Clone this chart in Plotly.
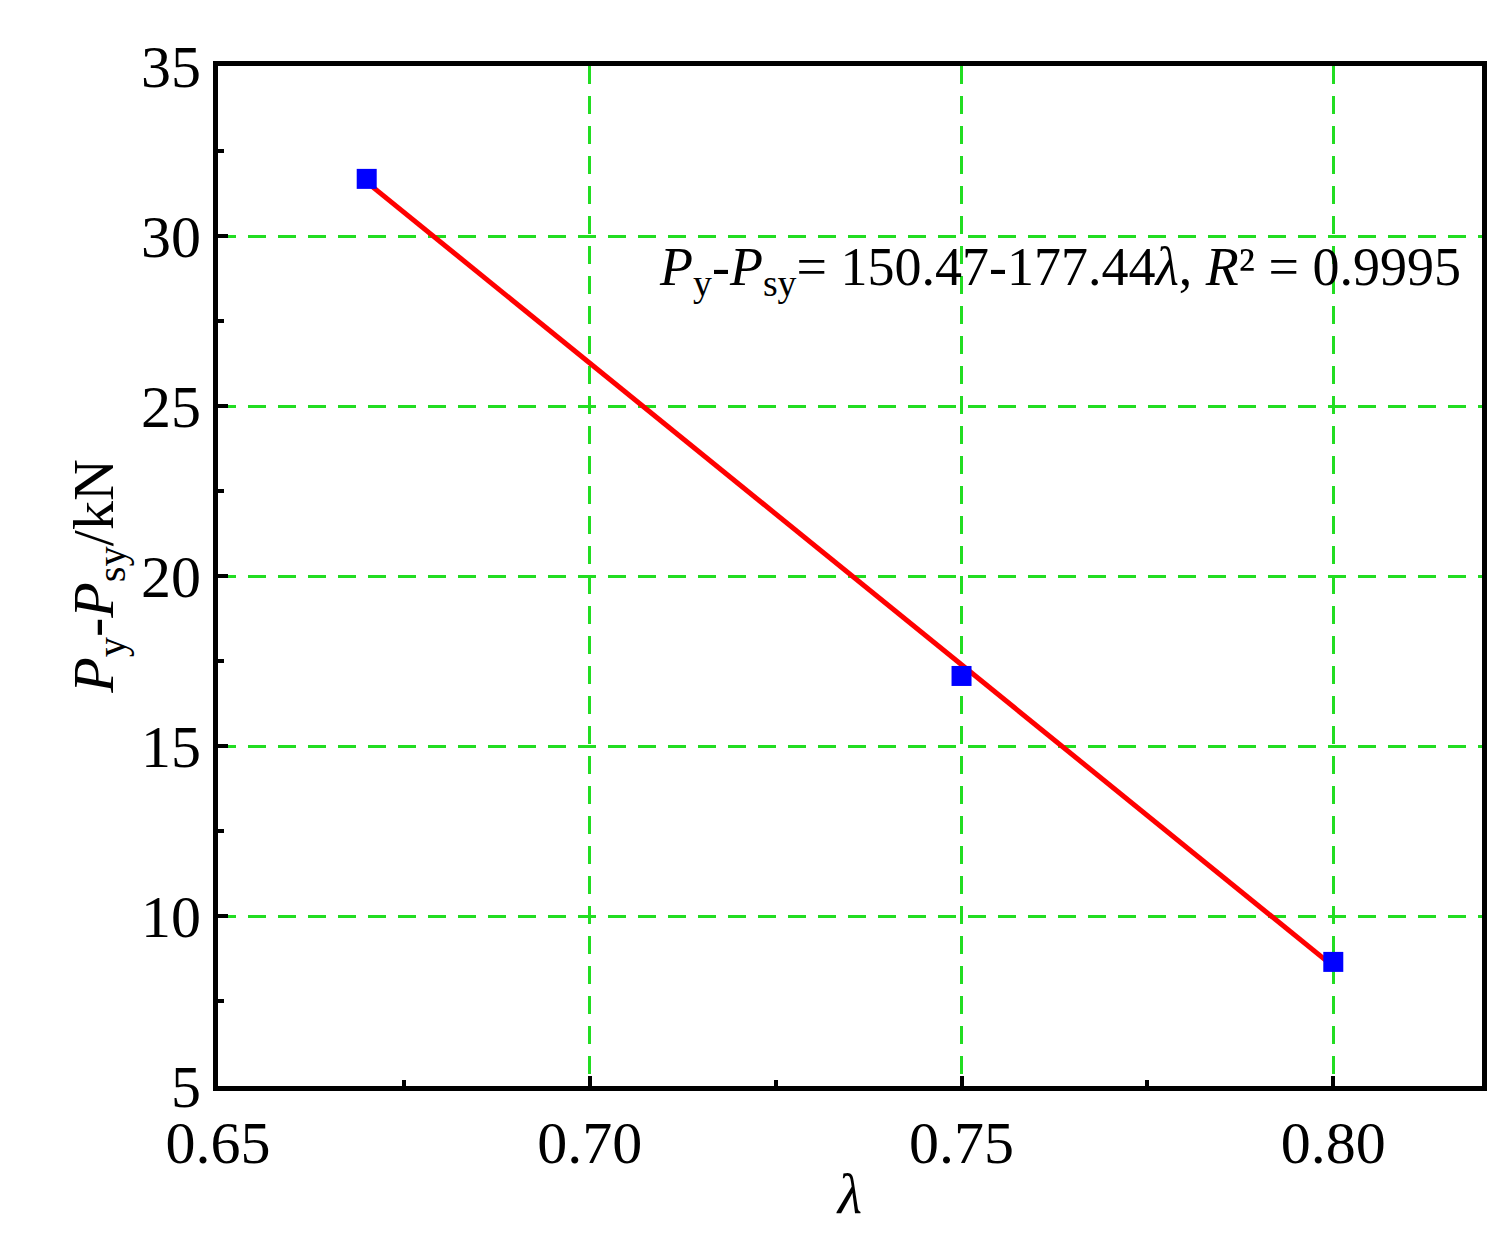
import plotly.graph_objects as go
import numpy as np

lam = [0.67, 0.75, 0.80]
dp = [31.68, 17.06, 8.65]
fit_a, fit_b = 150.47, -177.44
xfit = np.array([min(lam), max(lam)])
yfit = fit_a + fit_b * xfit

F = "Liberation Serif"
fig = go.Figure()
fig.add_trace(go.Scatter(x=xfit, y=yfit, mode="lines", line=dict(color="red", width=5)))
fig.add_trace(go.Scatter(x=lam, y=dp, mode="markers",
                         marker=dict(symbol="square", size=20, color="blue")))
fig.add_annotation(x=0.8175, y=29.0, xref="x", yref="y", xanchor="right", showarrow=False,
                   text="<i>P</i><sub>y</sub>-<i>P</i><sub>sy</sub>= 150.47-177.44<i>λ</i>, <i>R</i>² = 0.9995",
                   font=dict(family=F, size=54, color="black"))
ax = dict(showline=True, linewidth=5, linecolor="black", mirror=True, ticks="inside",
          ticklen=10, tickwidth=4, tickcolor="black",
          showgrid=True, gridcolor="#22dd22", griddash="18px,12px", gridwidth=3,
          zeroline=False, tickfont=dict(family=F, size=60, color="black"))
fig.update_xaxes(**ax, range=[0.65, 0.82], tickvals=[0.65, 0.70, 0.75, 0.80],
                 ticktext=["0.65", "0.70", "0.75", "0.80"],
                 minor=dict(ticks="inside", ticklen=6, tickwidth=4, tickcolor="black",
                            dtick=0.025, tick0=0.65, showgrid=False),
                 title=dict(text="<i>λ</i>", font=dict(family=F, size=56, color="black"), standoff=0))
fig.update_yaxes(**ax, range=[5, 35], dtick=5,
                 minor=dict(ticks="inside", ticklen=6, tickwidth=4, tickcolor="black",
                            dtick=2.5, tick0=5, showgrid=False),
                 title=dict(text="<i>P</i><sub>y</sub>-<i>P</i><sub>sy</sub>/kN",
                            font=dict(family=F, size=58, color="black"), standoff=10))
fig.update_layout(width=1507, height=1251, showlegend=False,
                  plot_bgcolor="white", paper_bgcolor="white",
                  margin=dict(l=210, r=33, t=58, b=173))
fig.write_html("out.html")
